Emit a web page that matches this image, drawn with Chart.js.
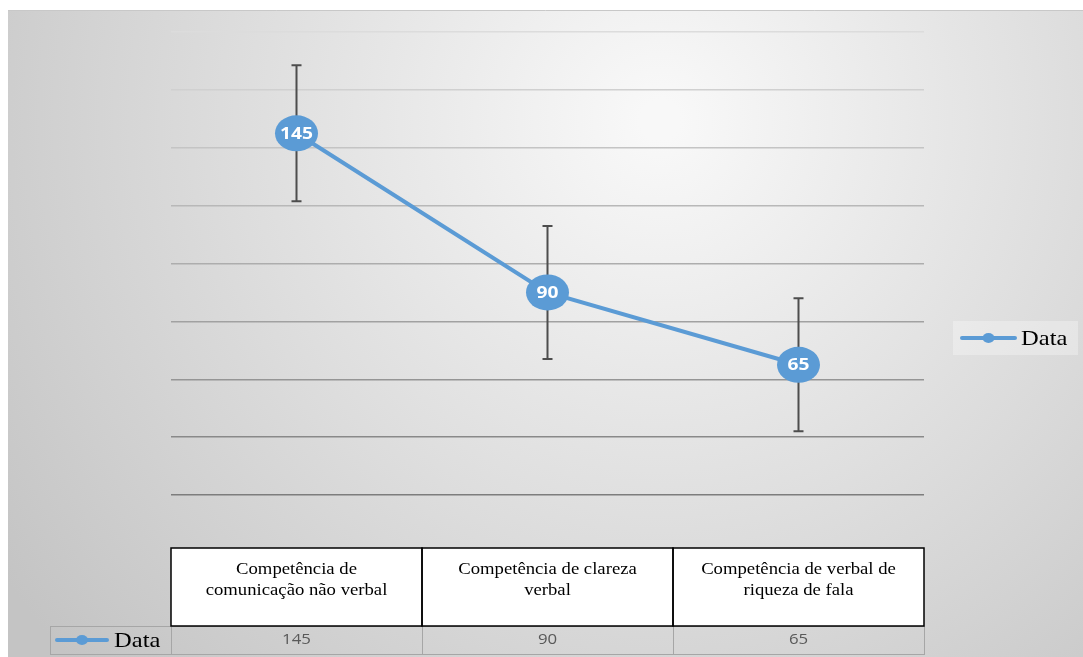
<!DOCTYPE html>
<html lang="pt">
<head>
    <meta charset="UTF-8">
    <title>Competências</title>
    <script src="https://cdn.jsdelivr.net/npm/chart.js"></script>
    <style>
        body {
            margin: 0;
            padding: 0;
            background: #fff;
        }
        canvas {
            display: block;
        }
    </style>
</head>
<body>
    <canvas id="chart" width="1083" height="657"></canvas>

    <script>
        // data
        const categories = [
            ['Competência de', 'comunicação não verbal'],
            ['Competência de clareza', 'verbal'],
            ['Competência de verbal de', 'riqueza de fala']
        ];
        const values = [145, 90, 65];
        const errors = [23.5, 23, 23];
        const seriesName = 'Data';

        const blue = '#5b9bd5';
        const serif = '"Liberation Serif", "Times New Roman", serif';
        const sans = '"Open Sans", "Liberation Sans", sans-serif';

        // the original is a bit stretched sideways, so text is too
        function wideText(ctx, text, x, y, sx) {
            ctx.save();
            ctx.translate(x, y);
            ctx.scale(sx, 1);
            ctx.fillText(text, 0, 0);
            ctx.restore();
        }

        function drawKey(ctx, x0, x1, y) {
            ctx.strokeStyle = blue;
            ctx.lineWidth = 4;
            ctx.lineCap = 'round';
            ctx.beginPath();
            ctx.moveTo(x0, y);
            ctx.lineTo(x1, y);
            ctx.stroke();
            ctx.fillStyle = blue;
            ctx.beginPath();
            ctx.ellipse((x0 + x1) / 2, y, 6, 5, 0, 0, Math.PI * 2);
            ctx.fill();
            ctx.lineCap = 'butt';
        }

        // background, table under the plot, legend on the right
        const decor = {
            id: 'decor',
            beforeDraw(chart) {
                const ctx = chart.ctx;
                ctx.save();
                const g = ctx.createRadialGradient(660, 120, 20, 660, 120, 800);
                g.addColorStop(0, '#f8f8f8');
                g.addColorStop(1, '#c4c4c4');
                ctx.fillStyle = g;
                ctx.fillRect(8, 10, 1075, 647);
                ctx.strokeStyle = '#c8c8c8';
                ctx.lineWidth = 1;
                ctx.beginPath();
                ctx.moveTo(8, 10.5);
                ctx.lineTo(1083, 10.5);
                ctx.stroke();
                ctx.restore();
            },
            afterDraw(chart) {
                const ctx = chart.ctx;
                const x = chart.scales.x;
                const area = chart.chartArea;
                const colW = (area.right - area.left) / categories.length;
                const top = 548, mid = 626, bot = 654;
                ctx.save();

                // data row (grey borders)
                ctx.strokeStyle = '#a6a6a6';
                ctx.lineWidth = 1;
                ctx.strokeRect(50.5, mid + 0.5, area.right - 50, bot - mid);
                categories.forEach((c, i) => {
                    const lx = Math.round(x.getPixelForValue(i) - colW / 2) + 0.5;
                    ctx.beginPath();
                    ctx.moveTo(lx, mid);
                    ctx.lineTo(lx, bot);
                    ctx.stroke();
                });

                // header cells
                ctx.fillStyle = '#ffffff';
                ctx.fillRect(area.left, top, area.right - area.left, mid - top);
                ctx.strokeStyle = '#000000';
                ctx.lineWidth = 1.5;
                ctx.textAlign = 'center';
                ctx.textBaseline = 'middle';
                categories.forEach((c, i) => {
                    const cx = x.getPixelForValue(i);
                    ctx.strokeRect(cx - colW / 2, top, colW, mid - top);
                    ctx.fillStyle = '#000000';
                    ctx.font = '17px ' + serif;
                    c.forEach((line, j) => {
                        wideText(ctx, line, cx, 570 + j * 21, 1.1);
                    });
                    // values row
                    ctx.fillStyle = '#595959';
                    ctx.font = '14px ' + sans;
                    wideText(ctx, String(values[i]), cx, 640, 1.2);
                });

                // legend key in the table
                drawKey(ctx, 57, 107, 640);
                ctx.fillStyle = '#000000';
                ctx.textAlign = 'left';
                ctx.font = '21px ' + serif;
                wideText(ctx, seriesName, 114, 641, 1.17);

                // legend on the right
                ctx.fillStyle = 'rgba(255,255,255,0.3)';
                ctx.fillRect(953, 321, 125, 34);
                drawKey(ctx, 962, 1015, 338);
                ctx.fillStyle = '#000000';
                wideText(ctx, seriesName, 1021, 339, 1.17);

                ctx.restore();
            }
        };

        // error bars + value bubbles
        const marks = {
            id: 'marks',
            beforeDatasetsDraw(chart) {
                const ctx = chart.ctx;
                const x = chart.scales.x, y = chart.scales.y;
                ctx.save();
                ctx.strokeStyle = '#4d4d4d';
                ctx.lineWidth = 2;
                values.forEach((v, i) => {
                    const px = x.getPixelForValue(i);
                    const yt = y.getPixelForValue(v + errors[i]);
                    const yb = y.getPixelForValue(v - errors[i]);
                    ctx.beginPath();
                    ctx.moveTo(px, yt); ctx.lineTo(px, yb);
                    ctx.moveTo(px - 5, yt); ctx.lineTo(px + 5, yt);
                    ctx.moveTo(px - 5, yb); ctx.lineTo(px + 5, yb);
                    ctx.stroke();
                });
                ctx.restore();
            },
            afterDatasetsDraw(chart) {
                const ctx = chart.ctx;
                const meta = chart.getDatasetMeta(0);
                ctx.save();
                meta.data.forEach((pt, i) => {
                    ctx.fillStyle = blue;
                    ctx.beginPath();
                    ctx.ellipse(pt.x, pt.y, 21.5, 18, 0, 0, Math.PI * 2);
                    ctx.fill();
                    ctx.fillStyle = '#ffffff';
                    ctx.font = 'bold 16px ' + sans;
                    ctx.textAlign = 'center';
                    ctx.textBaseline = 'middle';
                    wideText(ctx, String(values[i]), pt.x, pt.y + 1, 1.2);
                });
                ctx.restore();
            }
        };

        new Chart(document.getElementById('chart'), {
            type: 'line',
            data: {
                labels: categories,
                datasets: [{
                    label: seriesName,
                    data: values,
                    borderColor: blue,
                    backgroundColor: blue,
                    borderWidth: 4,
                    pointRadius: 0,
                    tension: 0
                }]
            },
            options: {
                responsive: false,
                animation: false,
                layout: {
                    padding: { left: 171, right: 159, top: 32, bottom: 162 }
                },
                plugins: {
                    legend: { display: false },
                    tooltip: { enabled: false }
                },
                scales: {
                    x: {
                        display: false,
                        offset: true
                    },
                    y: {
                        min: 20,
                        max: 180,
                        border: { display: false },
                        ticks: { display: false, stepSize: 20 },
                        grid: {
                            lineWidth: 1.5,
                            drawTicks: false,
                            color: ctx => {
                                // lines get darker toward the bottom
                                const t = (180 - ctx.tick.value) / 160;
                                const c = Math.round(220 - t * 95);
                                return `rgb(${c},${c},${c})`;
                            }
                        }
                    }
                }
            },
            plugins: [decor, marks]
        });
    </script>
</body>
</html>
